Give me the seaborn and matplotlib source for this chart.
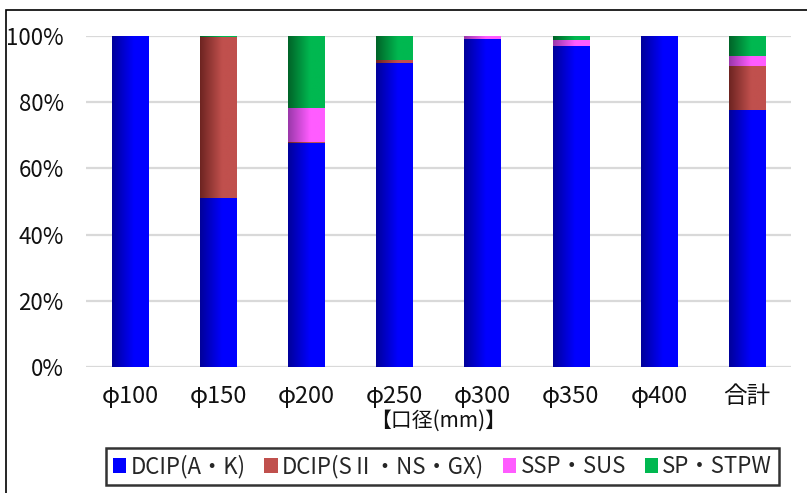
import numpy as np
import pandas as pd
import matplotlib
matplotlib.use("Agg")
import matplotlib.pyplot as plt
import seaborn as sns
from matplotlib.colors import LinearSegmentedColormap
from matplotlib.patches import Rectangle, Patch
from matplotlib.ticker import PercentFormatter

categories = ["φ100", "φ150", "φ200", "φ250", "φ300", "φ350", "φ400", "合計"]
series_names = ["DCIP(A・K)", "DCIP(SⅡ・NS・GX)", "SSP・SUS", "SP・STPW"]
dcip_ak = [100.0, 50.8, 67.4, 91.8, 98.8, 96.7, 100.0, 77.6]
dcip_s2 = [0.0, 48.7, 0.6, 0.9, 0.0, 0.0, 0.0, 13.0]
ssp_sus = [0.0, 0.0, 10.2, 0.0, 1.2, 2.1, 0.0, 3.1]
sp_stpw = [0.0, 0.5, 21.8, 7.3, 0.0, 1.2, 0.0, 6.3]
xlabel = "【口径(mm)】"

# (dark left, bright right) for the bar gradient
grad_colors = [("#00009A", "#0000FF"),
               ("#6E2421", "#C0504D"),
               ("#9A38AA", "#FF5CFF"),
               ("#006428", "#00B850")]

sns.set_theme(style="white")
plt.rcParams["font.family"] = ["Noto Sans CJK JP", "DejaVu Sans"]

df = pd.DataFrame({"口径": categories,
                   series_names[0]: dcip_ak,
                   series_names[1]: dcip_s2,
                   series_names[2]: ssp_sus,
                   series_names[3]: sp_stpw})
values = df[series_names].to_numpy() / 100.0
cum = np.cumsum(values, axis=1)

fig = plt.figure(figsize=(8.07, 4.93), dpi=100)
ax = fig.add_axes([86 / 807, 1 - 367 / 493, 705 / 807, 331 / 493])

# stacked bars: draw cumulative totals from top layer down
layer_of_patch = []
for k in range(3, -1, -1):
    n_before = len(ax.patches)
    sns.barplot(x=df["口径"], y=cum[:, k], color=grad_colors[k][1],
                width=0.41, saturation=1, linewidth=0, ax=ax)
    layer_of_patch += [k] * (len(ax.patches) - n_before)

# left-to-right gradient on each visible bar segment
for p, k in zip(list(ax.patches), layer_of_patch):
    x0, w = p.get_x(), p.get_width()
    i = int(round(x0 + w / 2))
    top = cum[i, k]
    bot = cum[i, k - 1] if k > 0 else 0.0
    if top - bot <= 0:
        continue
    cmap = LinearSegmentedColormap.from_list("g", list(grad_colors[k]))
    g = np.clip(np.linspace(0, 1, 64) / 0.6, 0, 1).reshape(1, -1)
    ax.imshow(g, cmap=cmap, vmin=0, vmax=1, aspect="auto",
              extent=[x0, x0 + w, bot, top], zorder=3,
              interpolation="bilinear")

ax.set_xlim(-0.5, len(categories) - 0.5)
ax.set_ylim(0, 1)
ax.set_yticks(np.arange(0, 1.01, 0.2))
ax.yaxis.set_major_formatter(PercentFormatter(1.0, decimals=0))
ax.grid(axis="y", color="#D9D9D9", linewidth=1.6)
ax.set_axisbelow(True)
for s in ax.spines.values():
    s.set_visible(False)
ax.tick_params(axis="both", length=0, colors="#111111")
ax.tick_params(axis="y", pad=16, labelsize=16)
ax.tick_params(axis="x", pad=13, labelsize=17)
ax.set_xlabel(xlabel, fontsize=15, labelpad=1, color="#111111")
ax.set_ylabel("")

# legend box
handles = [Patch(facecolor=c[1], edgecolor="none") for c in grad_colors]
leg = fig.legend(handles, series_names, ncol=4, loc="center", mode="expand",
                 bbox_to_anchor=(95 / 807, 1 - 489 / 493, 695 / 807, 45 / 493),
                 fontsize=16, frameon=True, fancybox=False, handlelength=0.6,
                 handleheight=0.6, handletextpad=0.2, columnspacing=0.8,
                 borderpad=0.3)
leg.get_frame().set_edgecolor("black")
leg.get_frame().set_linewidth(1.8)

# chart area border (cropped at right and bottom)
fig.patches.append(Rectangle((6 / 807, -0.1), 1.2, (1 - 10 / 493) + 0.1,
                             transform=fig.transFigure, fill=False,
                             edgecolor="black", linewidth=1.2))

fig.savefig("out.png", dpi=100)
